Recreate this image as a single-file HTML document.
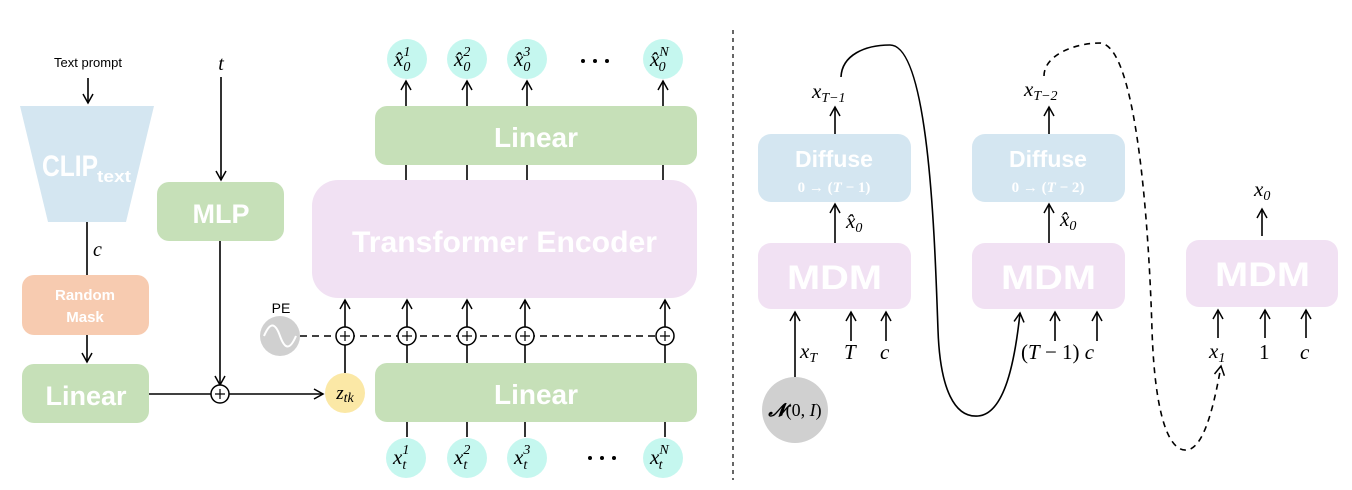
<!DOCTYPE html>
<html><head><meta charset="utf-8"><style>
html,body{margin:0;padding:0;background:#fff;}
svg{display:block;}
.b{font-family:"Liberation Sans",sans-serif;font-weight:bold;fill:#fff;}
.m{font-family:"Liberation Serif",serif;font-style:italic;fill:#000;}
.n{font-family:"Liberation Serif",serif;fill:#000;}
</style></head><body>
<svg width="1352" height="490" viewBox="0 0 1352 490" xmlns="http://www.w3.org/2000/svg">
<defs>
<marker id="a" markerWidth="12" markerHeight="12" refX="10" refY="6" orient="auto" markerUnits="userSpaceOnUse">
<path d="M1,1 L10,6 L1,11" fill="none" stroke="#000" stroke-width="1.5"/></marker>
</defs>
<g stroke="#000" stroke-width="1.6" fill="none">
<line x1="88" y1="78" x2="88" y2="103" marker-end="url(#a)"/>
<line x1="87" y1="222" x2="87" y2="275"/>
<line x1="87" y1="335" x2="87" y2="362" marker-end="url(#a)"/>
<line x1="221" y1="77" x2="221" y2="180" marker-end="url(#a)"/>
<line x1="220" y1="241" x2="220" y2="385" marker-end="url(#a)"/>
<line x1="149" y1="394" x2="211" y2="394"/>
<line x1="229" y1="394" x2="323" y2="394" marker-end="url(#a)"/>
<line x1="345" y1="373" x2="345" y2="345"/>
<line x1="345" y1="327" x2="345" y2="300" marker-end="url(#a)"/>
<line x1="300" y1="336" x2="664" y2="336" stroke-dasharray="7,5"/>
<line x1="407" y1="363" x2="407" y2="345"/><line x1="407" y1="327" x2="407" y2="300" marker-end="url(#a)"/>
<line x1="467" y1="363" x2="467" y2="345"/><line x1="467" y1="327" x2="467" y2="300" marker-end="url(#a)"/>
<line x1="525" y1="363" x2="525" y2="345"/><line x1="525" y1="327" x2="525" y2="300" marker-end="url(#a)"/>
<line x1="665" y1="363" x2="665" y2="345"/><line x1="665" y1="327" x2="665" y2="300" marker-end="url(#a)"/>
<line x1="407" y1="422" x2="407" y2="437"/><line x1="467" y1="422" x2="467" y2="437"/>
<line x1="525" y1="422" x2="525" y2="437"/><line x1="665" y1="422" x2="665" y2="437"/>
<line x1="406" y1="165" x2="406" y2="180"/><line x1="467" y1="165" x2="467" y2="180"/>
<line x1="527" y1="165" x2="527" y2="180"/><line x1="663" y1="165" x2="663" y2="180"/>
<line x1="406" y1="106" x2="406" y2="81" marker-end="url(#a)"/><line x1="467" y1="106" x2="467" y2="81" marker-end="url(#a)"/>
<line x1="527" y1="106" x2="527" y2="81" marker-end="url(#a)"/><line x1="663" y1="106" x2="663" y2="81" marker-end="url(#a)"/>
<line x1="733" y1="30" x2="733" y2="480" stroke-width="1.2" stroke-dasharray="4,4"/>
<line x1="835" y1="134" x2="835" y2="107" marker-end="url(#a)"/>
<line x1="835" y1="243" x2="835" y2="204" marker-end="url(#a)"/>
<line x1="1049" y1="134" x2="1049" y2="107" marker-end="url(#a)"/>
<line x1="1049" y1="243" x2="1049" y2="204" marker-end="url(#a)"/>
<line x1="1262" y1="236" x2="1262" y2="209" marker-end="url(#a)"/>
<line x1="795" y1="377" x2="795" y2="312" marker-end="url(#a)"/>
<line x1="851" y1="341" x2="851" y2="312" marker-end="url(#a)"/>
<line x1="886" y1="341" x2="886" y2="312" marker-end="url(#a)"/>
<line x1="1055" y1="341" x2="1055" y2="312" marker-end="url(#a)"/>
<line x1="1097" y1="341" x2="1097" y2="312" marker-end="url(#a)"/>
<line x1="1218" y1="338" x2="1218" y2="310" marker-end="url(#a)"/>
<line x1="1265" y1="338" x2="1265" y2="310" marker-end="url(#a)"/>
<line x1="1306" y1="338" x2="1306" y2="310" marker-end="url(#a)"/>
<path d="M841,77 C842,55 865,45 890,45 C930,45 935,250 938,330 C940,390 955,418 978,416 C1005,414 1015,360 1020,313" marker-end="url(#a)"/>
<path d="M1044,76 C1044,55 1075,43 1100,43 C1140,45 1150,260 1152,330 C1155,420 1170,452 1187,450 C1205,448 1215,400 1221,366" stroke-dasharray="6,5" marker-end="url(#a)"/>
</g>
<polygon points="20,106 154,106 126,222 48,222" fill="#d4e6f1"/>
<text x="42" y="176" class="b" font-size="30" textLength="56" lengthAdjust="spacingAndGlyphs">CLIP</text>
<text x="97" y="182" class="b" font-size="17" textLength="34" lengthAdjust="spacingAndGlyphs">text</text>
<rect x="22" y="275" width="127" height="60" rx="12" fill="#f7cbb0"/>
<text x="85" y="300" class="b" font-size="15" text-anchor="middle">Random</text>
<text x="85" y="322" class="b" font-size="15" text-anchor="middle">Mask</text>
<rect x="22" y="364" width="127" height="59" rx="12" fill="#c6e0b8"/>
<text x="86" y="405" class="b" font-size="27" text-anchor="middle">Linear</text>
<rect x="157" y="182" width="127" height="59" rx="12" fill="#c6e0b8"/>
<text x="221" y="223" class="b" font-size="27" text-anchor="middle">MLP</text>
<rect x="312" y="180" width="385" height="118" rx="26" fill="#f1e1f3"/>
<text x="352" y="252" class="b" font-size="30" textLength="305" lengthAdjust="spacingAndGlyphs">Transformer Encoder</text>
<rect x="375" y="106" width="322" height="59" rx="12" fill="#c6e0b8"/>
<text x="536" y="147" class="b" font-size="28" text-anchor="middle">Linear</text>
<rect x="375" y="363" width="322" height="59" rx="12" fill="#c6e0b8"/>
<text x="536" y="404" class="b" font-size="28" text-anchor="middle">Linear</text>
<text x="88" y="67" font-family="Liberation Sans,sans-serif" font-size="13" text-anchor="middle">Text prompt</text>
<text x="221" y="70" class="m" font-size="20" text-anchor="middle">t</text>
<text x="93" y="256" class="m" font-size="20">c</text>
<text x="281" y="313" font-family="Liberation Sans,sans-serif" font-size="14" text-anchor="middle">PE</text>
<circle cx="280" cy="336" r="20" fill="#d0d0d0"/>
<path d="M264,336 C270,322 275,322 280,336 C285,350 290,350 296,336" fill="none" stroke="#fff" stroke-width="2"/>
<circle cx="345" cy="393" r="20" fill="#fbe8a6"/>
<text x="345" y="399" class="m" font-size="19" text-anchor="middle">z<tspan font-size="14" dy="3">tk</tspan></text>
<g fill="#fff" stroke="#000" stroke-width="1.5">
<circle cx="220" cy="394" r="9"/><circle cx="345" cy="336" r="9"/><circle cx="407" cy="336" r="9"/>
<circle cx="467" cy="336" r="9"/><circle cx="525" cy="336" r="9"/><circle cx="665" cy="336" r="9"/>
</g>
<g stroke="#000" stroke-width="1.2">
<path d="M215,394h10M220,389v10M340,336h10M345,331v10M402,336h10M407,331v10M462,336h10M467,331v10M520,336h10M525,331v10M660,336h10M665,331v10"/>
</g>
<g fill="#c5f7ef">
<circle cx="407" cy="59" r="20"/><circle cx="467" cy="59" r="20"/><circle cx="527" cy="59" r="20"/><circle cx="663" cy="59" r="20"/>
<circle cx="406" cy="458" r="20"/><circle cx="467" cy="458" r="20"/><circle cx="527" cy="458" r="20"/><circle cx="663" cy="458" r="20"/>
</g>
<g class="m" font-size="21">
<text x="394" y="66">x̂<tspan font-size="14" dy="-10">1</tspan><tspan font-size="14" dx="-7" dy="15">0</tspan></text>
<text x="454" y="66">x̂<tspan font-size="14" dy="-10">2</tspan><tspan font-size="14" dx="-7" dy="15">0</tspan></text>
<text x="514" y="66">x̂<tspan font-size="14" dy="-10">3</tspan><tspan font-size="14" dx="-7" dy="15">0</tspan></text>
<text x="650" y="66">x̂<tspan font-size="14" dy="-10">N</tspan><tspan font-size="14" dx="-10" dy="15">0</tspan></text>
<text x="393" y="464">x<tspan font-size="14" dy="-10">1</tspan><tspan font-size="14" dx="-7" dy="15">t</tspan></text>
<text x="454" y="464">x<tspan font-size="14" dy="-10">2</tspan><tspan font-size="14" dx="-7" dy="15">t</tspan></text>
<text x="514" y="464">x<tspan font-size="14" dy="-10">3</tspan><tspan font-size="14" dx="-7" dy="15">t</tspan></text>
<text x="650" y="464">x<tspan font-size="14" dy="-10">N</tspan><tspan font-size="14" dx="-10" dy="15">t</tspan></text>
</g>
<g fill="#000"><circle cx="583" cy="61" r="2"/><circle cx="595" cy="61" r="2"/><circle cx="607" cy="61" r="2"/>
<circle cx="590" cy="458" r="2"/><circle cx="602" cy="458" r="2"/><circle cx="614" cy="458" r="2"/></g>
<rect x="758" y="134" width="153" height="68" rx="13" fill="#d4e6f1"/>
<text x="834" y="167" class="b" font-size="23" text-anchor="middle">Diffuse</text>
<text x="834" y="192" font-family="Liberation Serif,serif" font-weight="bold" fill="#fff" font-size="15" text-anchor="middle">0 → (<tspan font-style="italic">T</tspan> − 1)</text>
<rect x="758" y="243" width="153" height="66" rx="13" fill="#f1e1f3"/>
<text x="787" y="289" class="b" font-size="34" textLength="95" lengthAdjust="spacingAndGlyphs">MDM</text>
<rect x="972" y="134" width="153" height="68" rx="13" fill="#d4e6f1"/>
<text x="1048" y="167" class="b" font-size="23" text-anchor="middle">Diffuse</text>
<text x="1048" y="192" font-family="Liberation Serif,serif" font-weight="bold" fill="#fff" font-size="15" text-anchor="middle">0 → (<tspan font-style="italic">T</tspan> − 2)</text>
<rect x="972" y="243" width="153" height="66" rx="13" fill="#f1e1f3"/>
<text x="1001" y="289" class="b" font-size="34" textLength="95" lengthAdjust="spacingAndGlyphs">MDM</text>
<rect x="1186" y="240" width="152" height="67" rx="13" fill="#f1e1f3"/>
<text x="1215" y="286" class="b" font-size="34" textLength="95" lengthAdjust="spacingAndGlyphs">MDM</text>
<circle cx="795" cy="410" r="33" fill="#d0d0d0"/>
<text x="795" y="416" class="n" font-size="18" text-anchor="middle"><tspan font-weight="bold" font-style="italic">𝓝</tspan>(0, <tspan font-style="italic">I</tspan>)</text>
<g class="m" font-size="21">
<text x="812" y="98">x<tspan font-size="14" dy="4">T−1</tspan></text>
<text x="1024" y="96">x<tspan font-size="14" dy="4">T−2</tspan></text>
<text x="846" y="228">x̂<tspan font-size="14" dy="4">0</tspan></text>
<text x="1060" y="226">x̂<tspan font-size="14" dy="4">0</tspan></text>
<text x="1254" y="196">x<tspan font-size="14" dy="4">0</tspan></text>
<text x="800" y="358">x<tspan font-size="14" dy="4">T</tspan></text>
<text x="844" y="359">T</text>
<text x="880" y="359">c</text>
<text x="1021" y="359"><tspan font-style="normal">(</tspan>T<tspan font-style="normal"> − 1)</tspan> c</text>
<text x="1209" y="358">x<tspan font-size="14" dy="4">1</tspan></text>
<text x="1259" y="359" font-style="normal">1</text>
<text x="1300" y="359">c</text>
</g>
</svg>
</body></html>
